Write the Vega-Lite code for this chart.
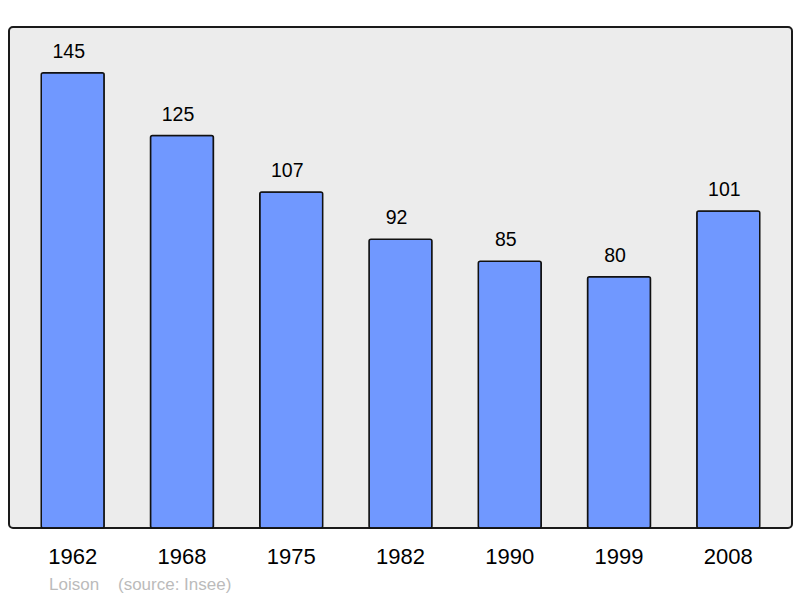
{
  "$schema": "https://vega.github.io/schema/vega-lite/v6.json",
  "width": 783,
  "height": 501,
  "padding": {"left": 9, "top": 27, "right": 8, "bottom": 70},
  "autosize": {"type": "none"},
  "background": "white",
  "config": {
    "font": "Liberation Sans",
    "view": {"fill": "#ececec", "stroke": "#1a1a1a", "strokeWidth": 2, "cornerRadius": 4}
  },
  "title": {
    "text": "Loison\u00a0\u00a0\u00a0\u00a0(source: Insee)",
    "orient": "bottom",
    "anchor": "start",
    "frame": "group",
    "dx": 40,
    "offset": 10,
    "color": "#bbbbbb",
    "fontSize": 17,
    "fontWeight": "normal",
    "font": "Liberation Sans"
  },
  "data": {
    "values": [
      {"year": "1962", "pop": 145},
      {"year": "1968", "pop": 125},
      {"year": "1975", "pop": 107},
      {"year": "1982", "pop": 92},
      {"year": "1990", "pop": 85},
      {"year": "1999", "pop": 80},
      {"year": "2008", "pop": 101}
    ]
  },
  "encoding": {
    "x": {
      "field": "year",
      "type": "ordinal",
      "sort": null,
      "scale": {"paddingInner": 0.424, "paddingOuter": 0.295},
      "axis": {
        "title": null,
        "domain": false,
        "ticks": false,
        "labelAngle": 0,
        "labelFontSize": 22,
        "labelColor": "black",
        "labelPadding": 18,
        "labelFont": "Liberation Sans"
      }
    },
    "y": {
      "field": "pop",
      "type": "quantitative",
      "scale": {"domain": [0, 159.6], "nice": false},
      "axis": null
    }
  },
  "layer": [
    {
      "mark": {"type": "bar", "color": "#7098ff", "stroke": "#111111", "strokeWidth": 1.5, "cornerRadius": 2}
    },
    {
      "mark": {"type": "text", "baseline": "bottom", "dy": -11, "dx": -4, "fontSize": 19.5, "color": "black", "font": "Liberation Sans"},
      "encoding": {"text": {"field": "pop", "type": "quantitative"}}
    }
  ]
}
